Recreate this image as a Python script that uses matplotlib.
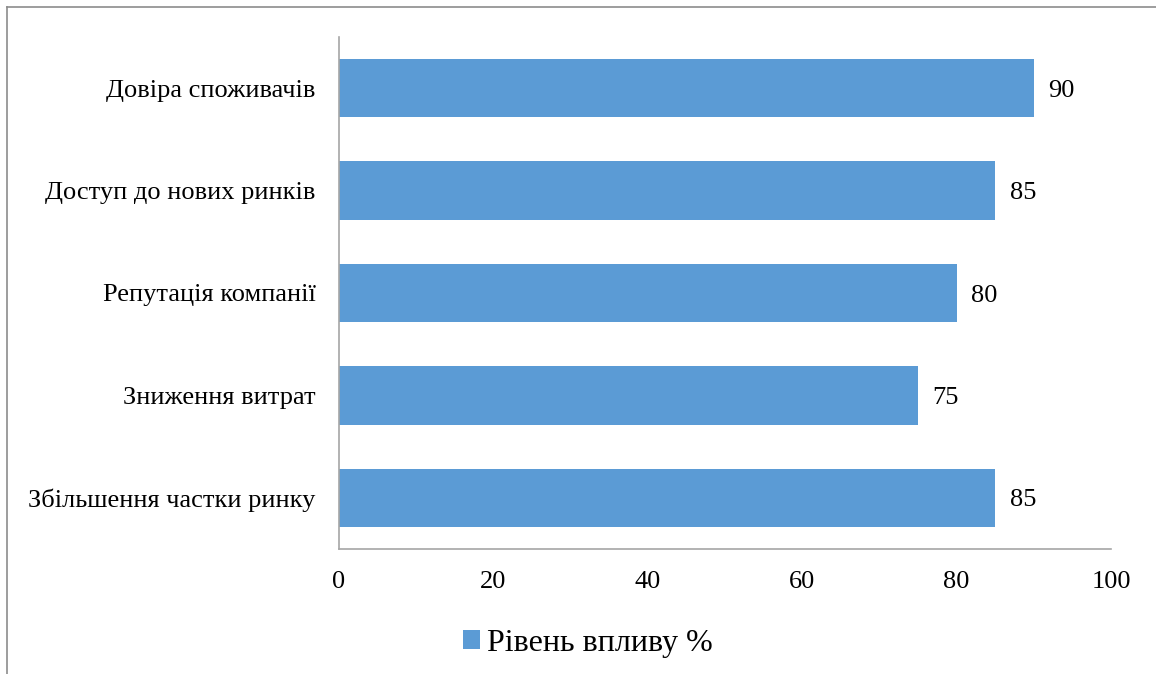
import matplotlib
matplotlib.use("Agg")
import matplotlib.pyplot as plt
from matplotlib.lines import Line2D
from matplotlib.patches import Patch

categories = ["Збільшення частки ринку", "Зниження витрат", "Репутація компанії",
              "Доступ до нових ринків", "Довіра споживачів"]
values = [85, 75, 80, 85, 90]
series_name = "Рівень впливу %"
xticks = [0, 20, 40, 60, 80, 100]

plt.rcParams['font.family'] = ['Liberation Serif', 'DejaVu Serif']

fig = plt.figure(figsize=(11.56, 6.74), dpi=100)
ax = fig.add_axes([339/1156, 1 - 549/674, (1111 - 339)/1156, (549 - 37)/674])

bar_color = "#5B9BD5"
ypos = list(range(len(categories)))
ax.barh(ypos, values, height=0.57, color=bar_color)

for y, v in zip(ypos, values):
    ax.text(v + 1.9, y, str(v), va="center_baseline", ha="left", fontsize=19, color="black")

ax.set_xlim(0, 100)
ax.set_ylim(-0.5, len(categories) - 0.5)
ax.set_xticks(xticks)
ax.set_xticklabels([str(t) for t in xticks], fontsize=19)
ax.set_yticks(ypos)
ax.set_yticklabels(categories, fontsize=19)
ax.tick_params(axis="both", length=0)
ax.tick_params(axis="x", pad=16)
ax.tick_params(axis="y", pad=17)

for side in ["top", "right"]:
    ax.spines[side].set_visible(False)
for side in ["left", "bottom"]:
    ax.spines[side].set_color("#a6a6a6")
    ax.spines[side].set_linewidth(1.2)

handle = Patch(facecolor=bar_color, edgecolor="none")
fig.legend([handle], [series_name], loc="center", bbox_to_anchor=(588/1156, 1 - 643/674),
           frameon=False, fontsize=23, handlelength=0.53, handleheight=0.53,
           handletextpad=0.2)

# outer frame (top and left edge visible)
fig.add_artist(Line2D([7/1156, 1], [1 - 7/674, 1 - 7/674], transform=fig.transFigure,
                      color="#8c8c8c", linewidth=1.2))
fig.add_artist(Line2D([7/1156, 7/1156], [0, 1 - 7/674], transform=fig.transFigure,
                      color="#8c8c8c", linewidth=1.2))

fig.savefig("out.png", dpi=100)
